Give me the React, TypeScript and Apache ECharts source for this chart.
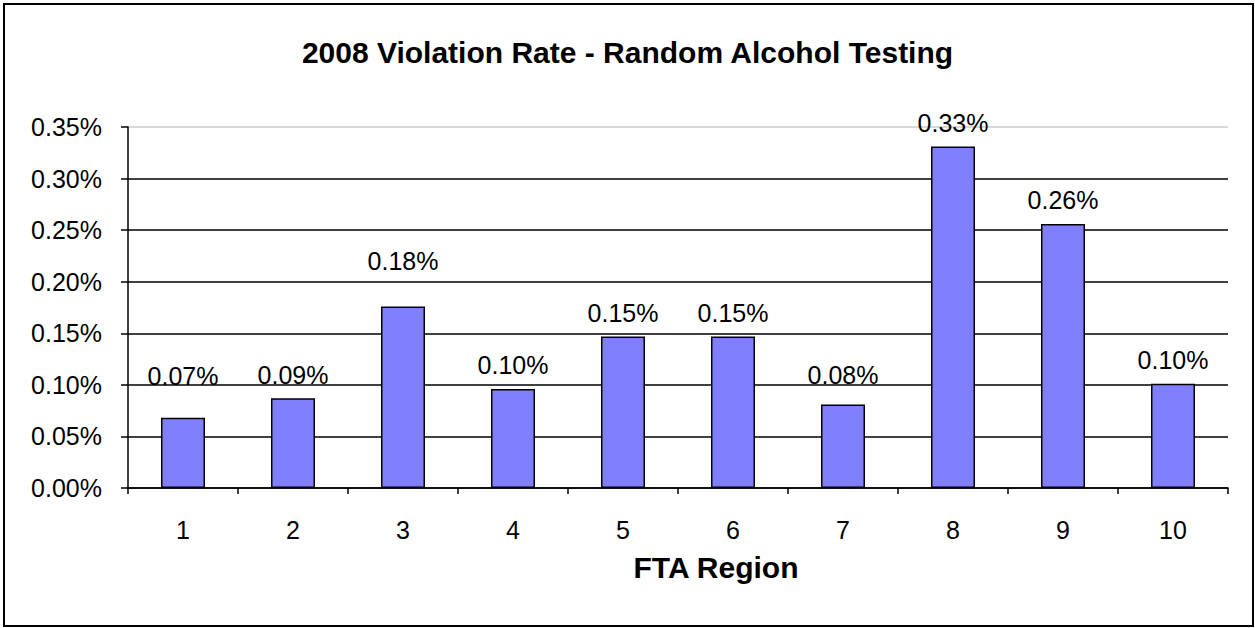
import React, { useEffect, useRef } from "react";
import * as echarts from "echarts";

const categories = ["1", "2", "3", "4", "5", "6", "7", "8", "9", "10"];
const violationRates = [0.068, 0.087, 0.176, 0.096, 0.147, 0.147, 0.081, 0.331, 0.256, 0.101];
const yTicks = { min: 0, max: 0.35, interval: 0.05 };
const titleText = "2008 Violation Rate - Random Alcohol Testing";
const xAxisTitle = "FTA Region";

export default function App() {
  const ref = useRef<HTMLDivElement>(null);
  useEffect(() => {
    document.body.style.margin = "0";
    const chart = echarts.init(ref.current!, null, { renderer: "svg" });
    const font = "Liberation Sans, Arial, sans-serif";
    // Excel nudged a few labels higher to avoid gridlines
    const extraGap: Record<number, number> = { 0: 18, 2: 22, 6: 6 };
    const baseGap = 11;
    chart.setOption({
      animation: false,
      backgroundColor: "#ffffff",
      textStyle: { fontFamily: font },
      title: {
        text: titleText,
        left: "center",
        top: 32,
        textStyle: { fontFamily: font, fontSize: 30, fontWeight: "bold", color: "#000" },
      },
      graphic: [
        {
          type: "rect",
          shape: { x: 4, y: 4, width: 1249, height: 622 },
          style: { fill: "none", stroke: "#000", lineWidth: 2 },
        },
      ],
      grid: { left: 128, right: 27, top: 127, bottom: 140, containLabel: false },
      xAxis: {
        type: "category",
        data: categories,
        name: xAxisTitle,
        nameLocation: "middle",
        nameGap: 64,
        nameTextStyle: {
          fontFamily: font,
          fontSize: 30,
          fontWeight: "bold",
          color: "#000",
          padding: [0, 0, 0, 76],
        },
        axisLine: { lineStyle: { color: "#000", width: 1.5 } },
        axisTick: { show: true, length: 6, lineStyle: { color: "#000", width: 1.5 } },
        axisLabel: { fontSize: 25, color: "#000", margin: 29, fontFamily: font },
      },
      yAxis: {
        type: "value",
        min: yTicks.min,
        max: yTicks.max,
        interval: yTicks.interval,
        axisLine: { show: true, lineStyle: { color: "#000", width: 1.5 } },
        axisTick: { show: true, length: 7, lineStyle: { color: "#000", width: 1.5 } },
        axisLabel: {
          fontSize: 25,
          color: "#000",
          margin: 26,
          fontFamily: font,
          formatter: (v: number) => v.toFixed(2) + "%",
        },
        splitLine: {
          show: true,
          lineStyle: {
            color: ["#000", "#000", "#000", "#000", "#000", "#000", "#000", "#cccccc"],
            width: 1.5,
          },
        },
      },
      series: [
        {
          type: "bar",
          data: violationRates.map((v, i) => ({
            value: v,
            label: { distance: baseGap + (extraGap[i] || 0) },
          })),
          barWidth: "40%",
          itemStyle: { color: "#8080ff", borderColor: "#000", borderWidth: 1.5 },
          label: {
            show: true,
            position: "top",
            distance: baseGap,
            fontSize: 25,
            color: "#000",
            fontFamily: font,
            formatter: (p: any) => Number(p.value).toFixed(2) + "%",
          },
        },
      ],
    });
    return () => chart.dispose();
  }, []);
  return <div ref={ref} style={{ width: 1255, height: 628 }} />;
}
